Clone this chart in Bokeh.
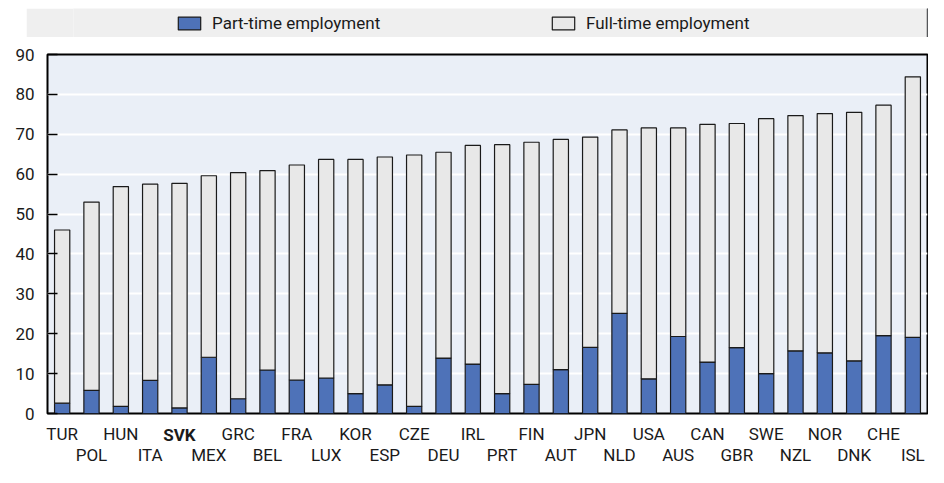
from bokeh.plotting import figure
from bokeh.models import (FactorRange, Range1d, CategoricalAxis, Legend, LegendItem,
                          FixedTicker, ColumnDataSource, CustomJSTickFormatter)
from bokeh.layouts import column
from bokeh.embed import file_html
from bokeh.resources import INLINE

countries = ["TUR", "POL", "HUN", "ITA", "SVK", "MEX", "GRC", "BEL", "FRA", "LUX",
             "KOR", "ESP", "CZE", "DEU", "IRL", "PRT", "FIN", "AUT", "JPN", "NLD",
             "USA", "AUS", "CAN", "GBR", "SWE", "NZL", "NOR", "DNK", "CHE", "ISL"]
part_time = [2.6, 5.8, 1.8, 8.3, 1.4, 14.1, 3.7, 10.9, 8.4, 8.9,
             5.0, 7.2, 1.8, 13.9, 12.4, 5.0, 7.3, 11.0, 16.6, 25.1,
             8.7, 19.3, 12.9, 16.5, 10.0, 15.7, 15.2, 13.2, 19.5, 19.1]
full_time = [43.4, 47.2, 55.1, 49.2, 56.3, 45.5, 56.7, 50.0, 53.9, 54.8,
             58.7, 57.1, 63.0, 51.6, 54.8, 62.4, 60.7, 57.7, 52.7, 46.0,
             62.9, 52.3, 59.6, 56.2, 63.9, 59.0, 60.0, 62.3, 57.8, 65.3]
series = ["part_time", "full_time"]
series_labels = ["Part-time employment", "Full-time employment"]
y_ticks = [0, 10, 20, 30, 40, 50, 60, 70, 80, 90]
highlight = "SVK"

FONT = "Roboto"
FS = "17px"
TXT = "#1a1a1a"
BLUE = "#4e72b8"
GREY = "#e8e8e8"
EDGE = "#1a1a1a"

source = ColumnDataSource(data=dict(country=countries, part_time=part_time, full_time=full_time))

# ---------- main chart ----------
p = figure(x_range=FactorRange(*countries), y_range=Range1d(0, 90),
           width=928, height=430, output_backend="svg", toolbar_location=None,
           min_border_left=47, min_border_right=1, min_border_top=17, min_border_bottom=0)
p.background_fill_color = "#eaeff7"
p.border_fill_color = "white"
p.outline_line_color = "black"
p.outline_line_width = 2

p.vbar_stack(series, x="country", width=0.52, source=source,
             color=[BLUE, GREY], line_color=EDGE, line_width=1.2)

p.xgrid.grid_line_color = None
p.ygrid.grid_line_color = "white"
p.ygrid.grid_line_width = 2
p.ygrid.ticker = FixedTicker(ticks=y_ticks)

ya = p.yaxis[0]
ya.ticker = FixedTicker(ticks=y_ticks)
ya.axis_line_color = None
ya.major_tick_in = 10
ya.major_tick_out = 0
ya.major_tick_line_color = "black"
ya.major_tick_line_width = 1.5
ya.minor_tick_line_color = None
ya.major_label_standoff = 13
ya.major_label_text_font = FONT
ya.major_label_text_font_size = FS
ya.major_label_text_color = TXT

# row 1 (even positions, normal), row 1 highlight (bold), row 2 (odd positions)
xa1 = p.xaxis[0]
xhl = CategoricalAxis()
p.add_layout(xhl, "below")
xa2 = CategoricalAxis()
p.add_layout(xa2, "below")

xa1.formatter = CustomJSTickFormatter(args=dict(parity=0, hl=highlight), code="""
    return (index % 2 == parity && tick != hl) ? tick : "";
""")
xhl.formatter = CustomJSTickFormatter(args=dict(hl=highlight), code="""
    return (tick == hl) ? tick : "";
""")
xa2.formatter = CustomJSTickFormatter(args=dict(parity=1, hl=highlight), code="""
    return (index % 2 == parity && tick != hl) ? tick : "";
""")
for ax, st in ((xa1, 4), (xhl, -28), (xa2, -9)):
    ax.axis_line_color = None
    ax.major_tick_line_color = None
    ax.minor_tick_line_color = None
    ax.major_label_standoff = st
    ax.major_label_text_font = FONT
    ax.major_label_text_font_size = FS
    ax.major_label_text_color = TXT
xhl.major_label_text_font_style = "bold"

# ---------- legend band ----------
lg = figure(width=902, height=29, output_backend="svg", toolbar_location=None,
            x_range=Range1d(0, 1), y_range=Range1d(0, 1),
            x_axis_location=None, y_axis_location=None,
            min_border=0, margin=(8, 0, 0, 26))
lg.background_fill_color = "#efefef"
lg.border_fill_color = "#efefef"
lg.outline_line_color = None
lg.grid.grid_line_color = None
r1 = lg.vbar(x=[5], top=[5], width=0.5, fill_color=BLUE, line_color=EDGE, line_width=1.2)
r2 = lg.vbar(x=[6], top=[5], width=0.5, fill_color=GREY, line_color=EDGE, line_width=1.2)
legend = Legend(items=[LegendItem(label=series_labels[0], renderers=[r1]),
                       LegendItem(label=series_labels[1], renderers=[r2])],
                orientation="horizontal", location=(102, 4),
                background_fill_alpha=0, border_line_color=None,
                glyph_width=28, glyph_height=16, label_standoff=9,
                label_width=337, spacing=0, padding=0, margin=0,
                label_text_font=FONT, label_text_font_size=FS, label_text_color=TXT)
lg.add_layout(legend)

layout = column(lg, p, spacing=0)
open("out.html", "w").write(file_html(layout, INLINE))
